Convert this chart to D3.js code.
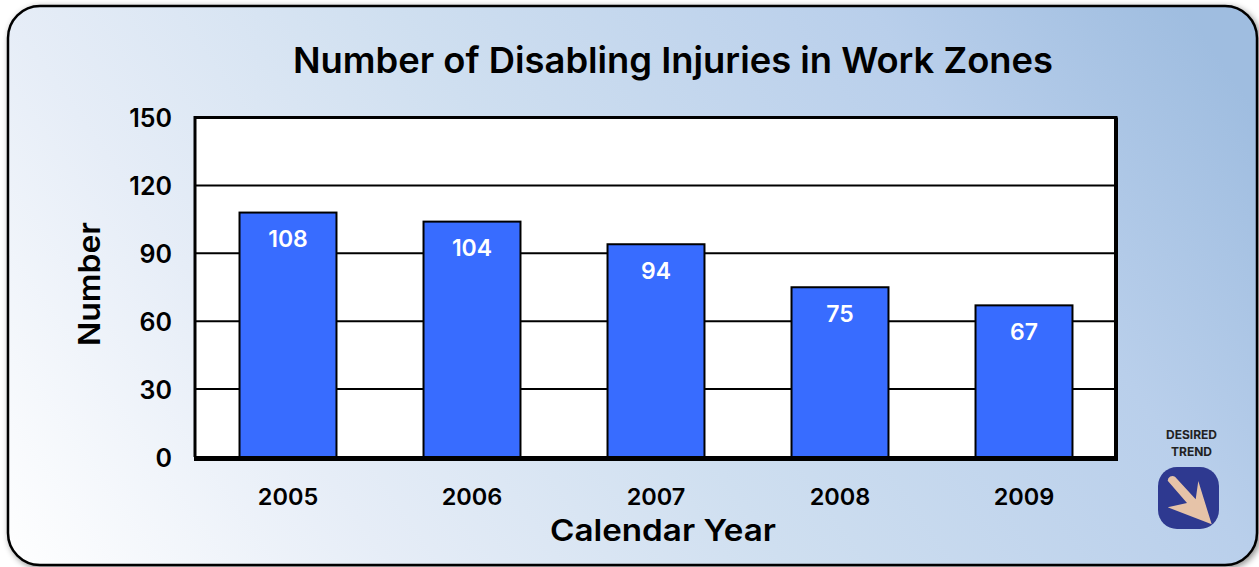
<!DOCTYPE html>
<html><head><meta charset="utf-8">
<script src="https://cdn.jsdelivr.net/npm/d3@7"></script>
<style>html,body{margin:0;padding:0;background:#fff;overflow:hidden}
text{font-family:Inter,Lato,sans-serif;font-weight:600;fill:#000}</style></head>
<body><svg id="c" width="1259" height="567"></svg>
<script>
const years=["2005","2006","2007","2008","2009"];
const injuries=[108,104,94,75,67];
const yTicks=[0,30,60,90,120,150];
const titleText="Number of Disabling Injuries in Work Zones";
const xTitle="Calendar Year", yTitle="Number";
const trendLines=["DESIRED","TREND"];

const svg=d3.select("#c");
const defs=svg.append("defs");
const g=defs.append("linearGradient").attr("id","bg").attr("gradientUnits","userSpaceOnUse")
 .attr("x1",0).attr("y1",570).attr("x2",1060).attr("y2",-170);
[[0,"#ffffff"],[0.25,"#e6edf7"],[0.5,"#cfdff0"],[0.8,"#b9cfeb"],[1,"#9fbde0"]].forEach(s=>g.append("stop").attr("offset",s[0]).attr("stop-color",s[1]));
const f=defs.append("filter").attr("id","sh").attr("x","-5%").attr("y","-5%").attr("width","110%").attr("height","110%");
f.append("feDropShadow").attr("dx",2).attr("dy",2).attr("stdDeviation",3).attr("flood-color","#000").attr("flood-opacity",.45);

svg.append("rect").attr("x",8).attr("y",6).attr("width",1249).attr("height",559).attr("rx",32)
 .attr("fill","url(#bg)").attr("stroke","#000").attr("stroke-width",2.5).attr("filter","url(#sh)");

const x=d3.scaleBand().domain(years).range([196,1116]).paddingInner(.473).paddingOuter(.2365);
const y=d3.scaleLinear().domain([0,150]).range([457,117.5]);

const plot=svg.append("g");
plot.append("rect").attr("x",196).attr("y",y(150)).attr("width",920).attr("height",y(0)-y(150)).attr("fill","#fff");
plot.append("g").selectAll("line").data(yTicks.filter(d=>d>0&&d<150)).join("line")
 .attr("x1",196).attr("x2",1116).attr("y1",d=>y(d)).attr("y2",d=>y(d)).attr("stroke","#000").attr("stroke-width",2);

plot.append("g").selectAll("rect").data(injuries).join("rect")
 .attr("x",(d,i)=>x(years[i])).attr("width",x.bandwidth())
 .attr("y",d=>y(d)).attr("height",d=>y(0)-y(d))
 .attr("fill","#386cff").attr("stroke","#000").attr("stroke-width",2);

plot.append("g").selectAll("text").data(injuries).join("text")
 .attr("x",(d,i)=>x(years[i])+x.bandwidth()/2).attr("y",d=>y(d)+34.5)
 .attr("text-anchor","middle").attr("font-size",23).style("fill","#fff").text(d=>d);

// frame
plot.append("path").attr("d",`M195 ${y(0)}V${y(150)}H1116V${y(0)}`).attr("fill","none").attr("stroke","#000").attr("stroke-width",3);
plot.append("line").attr("x1",194).attr("x2",1118).attr("y1",y(0)+1.5).attr("y2",y(0)+1.5).attr("stroke","#000").attr("stroke-width",5);
plot.append("line").attr("x1",1116).attr("x2",1116).attr("y1",y(150)).attr("y2",y(0)).attr("stroke","#000").attr("stroke-width",4);

// axes (labels only)
const ay=svg.append("g").attr("transform","translate(172,0)").call(d3.axisLeft(y).tickValues(yTicks).tickSize(0).tickPadding(0));
ay.select(".domain").remove();
ay.selectAll("text").attr("font-size",25).attr("dy",".36em").style("font-family","Inter,Lato,sans-serif");
const ax=svg.append("g").attr("transform","translate(0,497)").call(d3.axisBottom(x).tickSize(0).tickPadding(0));
ax.select(".domain").remove();
ax.selectAll("text").attr("font-size",23.5).attr("dy",".36em").attr("y",0).style("font-family","Inter,Lato,sans-serif");

svg.append("text").attr("x",673).attr("y",73).attr("text-anchor","middle").attr("font-size",35.5).attr("textLength",760).attr("lengthAdjust","spacingAndGlyphs").text(titleText);
svg.append("text").attr("x",663).attr("y",541).attr("text-anchor","middle").attr("font-size",30).attr("textLength",226).attr("lengthAdjust","spacingAndGlyphs").text(xTitle);
svg.append("text").attr("transform","translate(100,284) rotate(-90)").attr("text-anchor","middle").attr("font-size",30).attr("textLength",124).attr("lengthAdjust","spacingAndGlyphs").text(yTitle);

// desired trend badge
svg.selectAll(".dt").data(trendLines).join("text").attr("class","dt").attr("x",1191.5).attr("y",(d,i)=>438.5+i*17)
 .attr("text-anchor","middle").attr("font-size",12).style("fill","#222").style("font-weight",700).text(d=>d);
svg.append("rect").attr("x",1158).attr("y",467).attr("width",61).attr("height",62).attr("rx",19).attr("fill","#2e3990");
svg.append("path").attr("d","M1175 476.7 L1195.7 499.3 L1198.3 481 L1211.7 524.3 L1167.7 507.3 L1187 503 L1167.7 480.7 A4.8 4.8 0 0 1 1175 476.7 Z")
 .attr("fill","#e6c3a8");
</script></body></html>
